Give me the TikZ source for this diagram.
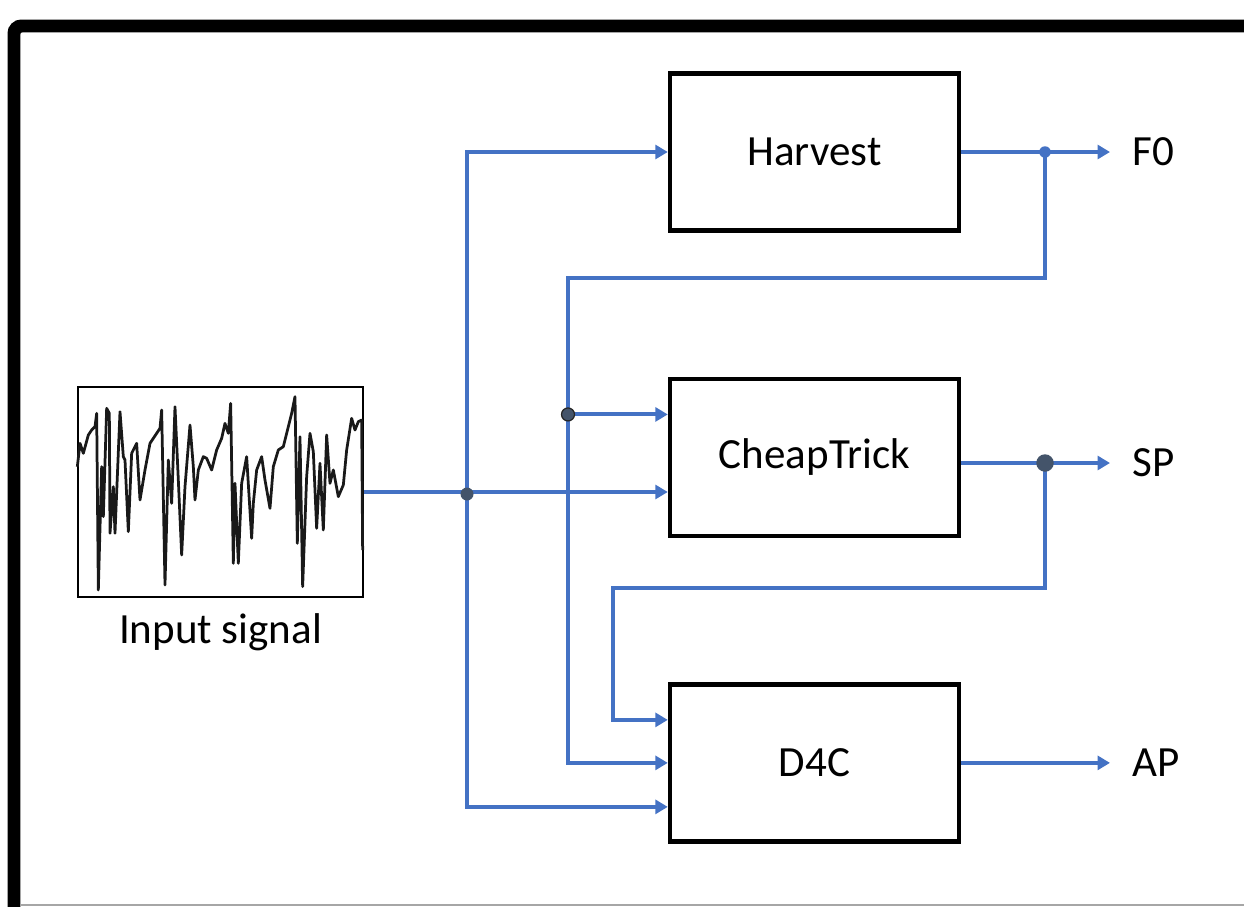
\documentclass[tikz,border=0pt]{standalone}
\usepackage{fontspec}
\setmainfont{Carlito}
\usetikzlibrary{positioning,arrows.meta}
\definecolor{wireblue}{RGB}{68,114,196}
\definecolor{dotslate}{RGB}{68,84,106}
\def\dx{0.45cm}
\def\dy{2.88cm}
\tikzstyle{block}=[draw,line width=0.09cm,minimum width=5.78cm,minimum height=3.14cm,inner sep=0pt]
\tikzstyle{sigbox}=[draw,line width=0.05cm,minimum width=5.7cm,minimum height=4.2cm,inner sep=0pt]
\tikzstyle{wire}=[draw=wireblue,line width=0.08cm]
\tikzstyle{joint}=[circle,fill=dotslate,inner sep=0pt,minimum size=0.26cm]
\tikzstyle{outlabel}=[inner sep=0pt]

\begin{document}
\begin{tikzpicture}[x=0.02cm,y=-0.02cm,node distance=\dy and \dx,
      >={Triangle[length=0.25cm,width=0.28cm]},
      font=\fontsize{24.5}{29}\selectfont
      ]
      \useasboundingbox (0,0) rectangle (1244,906);
      % frame
      \draw[line width=0.26cm,rounded corners=0.15cm] (14,930) -- (14,26) -- (1270,26);
      \draw[black!35,line width=0.04cm] (20,905) -- (1244,905);
      % blocks
      \node[block] (harvest) at (814.5,152) {Harvest};
      \node[block,below=of harvest] (cheap) {CheapTrick};
      \node[block,below=of cheap] (d4c) {D4C};
      % input signal
      \node[sigbox] (signal) at (220.5,492) {};
      \node[below=0.3cm of signal,inner sep=0pt] (siglabel) {Input signal};
      \begin{scope}[shift={(60,370)},x=0.006667cm,y=-0.006667cm]
        \draw[line width=0.055cm,black!90,line join=round] plot coordinates {
          (52,290) (60,220) (70,250) (85,195) (95,180) (105,170) (110,130)
          (115,660) (125,290) (130,440) (140,115) (148,130) (150,490)
          (160,350) (165,490) (180,125) (190,260) (195,270) (205,485)
          (215,250) (230,220) (240,390) (255,300) (270,220) (280,205)
          (290,190) (300,175) (305,120) (315,645) (325,270) (335,400)
          (345,110) (355,330) (365,555) (375,350) (390,165) (400,290)
          (405,390) (415,300) (430,260) (440,265) (455,300) (470,240)
          (485,205) (495,160) (505,190) (512,100) (520,580) (525,340)
          (535,580) (545,340) (560,260) (575,505) (580,400) (590,300)
          (605,260) (615,330) (630,415) (640,290) (655,240) (670,230)
          (680,190) (695,130) (705,80) (712,520) (720,200) (728,650)
          (740,320) (750,190) (760,245) (770,475) (780,280) (790,480)
          (800,195) (810,340) (820,300) (835,380) (850,345) (860,240)
          (875,145) (885,180) (895,155) (905,150) (908,540)};
      \end{scope}
      % taps and ends
      \coordinate (split) at (467,494);
      \coordinate (f0tap) at (1045,152);
      \coordinate (f0bus) at (568,278);
      \coordinate (sptap) at (1045,463);
      \coordinate (spbus) at (613,588);
      \coordinate (ctin1) at ([yshift=0.86cm]cheap.west);
      \coordinate (d4cin1) at ([yshift=0.86cm]d4c.west);
      \coordinate (d4cin3) at ([yshift=-0.88cm]d4c.west);
      \coordinate (f0end) at (1110,152);
      \coordinate (spend) at (1110,463);
      \coordinate (apend) at (1110,763);
      % connectors
      \draw[wire,->] (signal.east) -- (cheap.west |- signal.east);
      \draw[wire,<->] (harvest.west) -| (split |- d4cin3) -- (d4cin3);
      \draw[wire,->] (harvest.east) -- (harvest.east -| f0end);
      \draw[wire,->] (f0tap) |- (f0bus) |- (d4c.west);
      \draw[wire,->] (f0bus |- ctin1) -- (ctin1);
      \draw[wire,->] (cheap.east |- sptap) -- (spend);
      \draw[wire,->] (sptap) |- (spbus) |- (d4cin1);
      \draw[wire,->] (d4c.east) -- (d4c.east -| apend);
      % dots
      \node[joint,fill=wireblue,minimum size=0.23cm] at (f0tap) {};
      \node[joint,draw=black!85,line width=0.025cm] at (f0bus |- ctin1) {};
      \node[joint] at (split) {};
      \node[joint,minimum size=0.35cm] at (sptap) {};
      % outputs
      \node[outlabel,right=of f0end] (f0) {F0};
      \node[outlabel,right=of spend] (sp) {SP};
      \node[outlabel,right=of apend] (ap) {AP};
    \end{tikzpicture}
\end{document}
